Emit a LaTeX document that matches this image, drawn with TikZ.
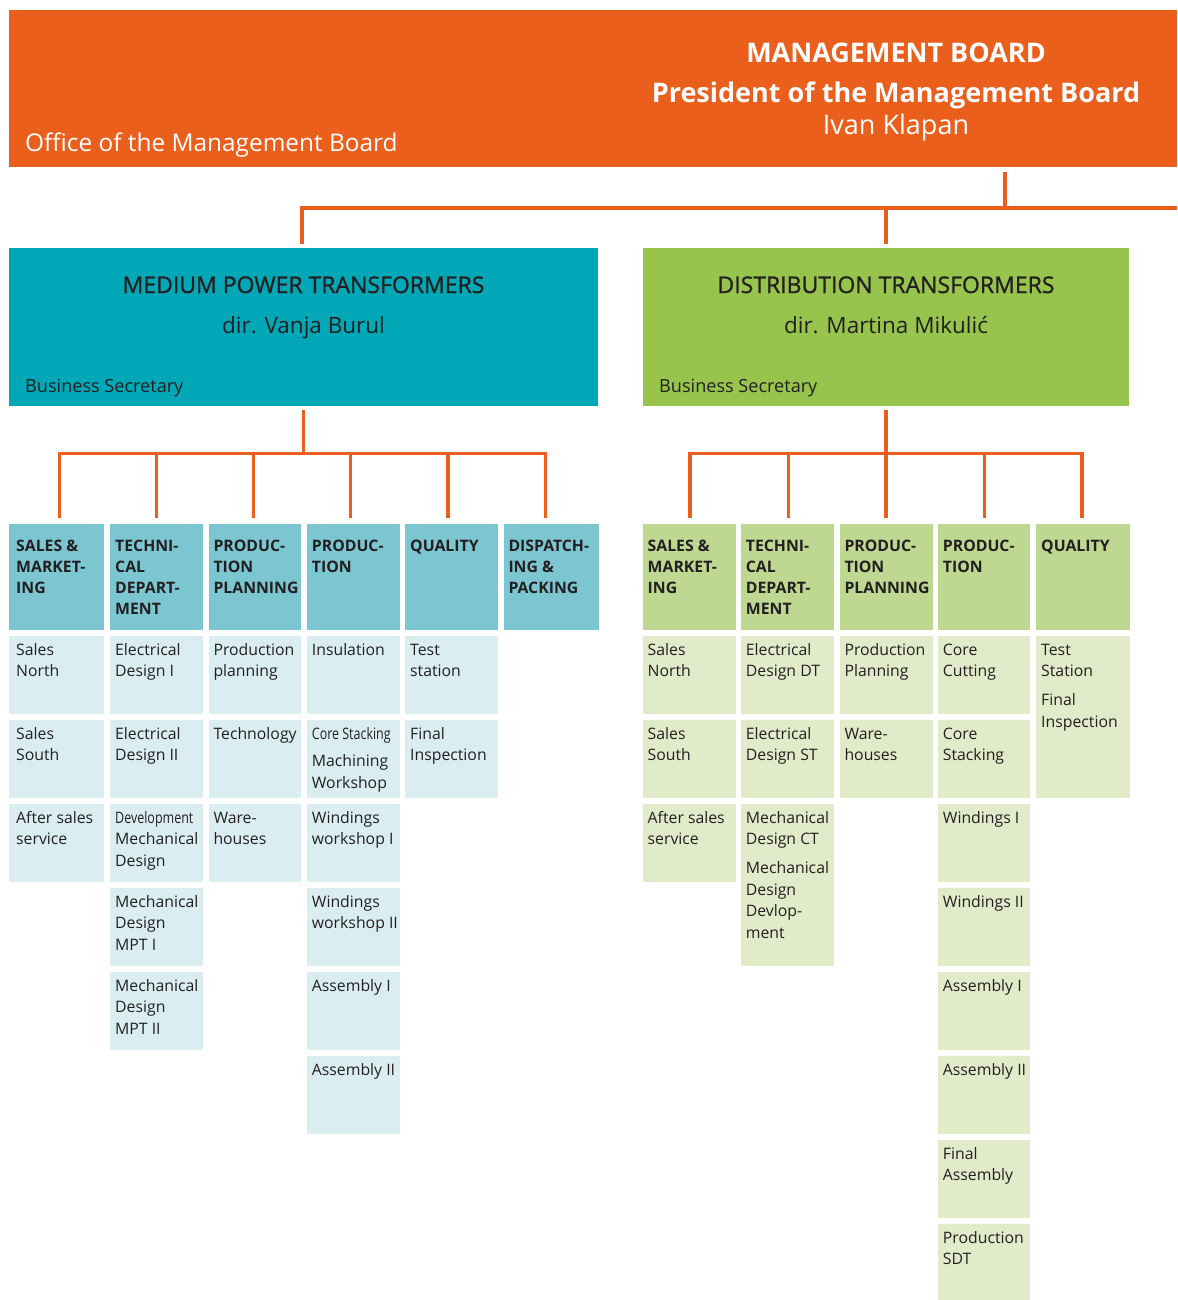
\documentclass[tikz,border=0pt]{standalone}
\usepackage{fontspec}
\setmainfont{Open Sans}
\newfontfamily\condfont[FakeStretch=0.79]{Open Sans}
\newfontfamily\semifont[FakeBold=1]{Open Sans}
\definecolor{orgC}{HTML}{EB5F1C}
\definecolor{tealC}{HTML}{00A8B7}
\definecolor{tealH}{HTML}{7BC6D1}
\definecolor{tealL}{HTML}{DAEEF2}
\definecolor{grnC}{HTML}{97C44C}
\definecolor{grnH}{HTML}{BFD891}
\definecolor{grnL}{HTML}{E1EBC9}
\definecolor{txtC}{HTML}{231F20}
\newcommand\cellfont{\fontsize{15.8}{21.5}\selectfont\hyphenpenalty=10000\exhyphenpenalty=10000\relax}
\newcommand\hdrfont{\fontsize{15.8}{21}\bfseries\hyphenpenalty=10000\exhyphenpenalty=10000\relax}
\tikzset{
  conn/.style={draw=orgC, line width=3.2pt, line join=miter},
  fillbox/.style={inner sep=0pt, anchor=north west, draw=none},
  cellnode/.style={inner sep=0pt, anchor=north west, text=txtC},
  boxtitle/.style={anchor=base, text=txtC, inner sep=0pt, font=\semifont\fontsize{23}{28}\selectfont},
  boxname/.style={anchor=base, text=txtC, inner sep=0pt, font=\fontsize{22.5}{28}\selectfont},
  boxsec/.style={anchor=base west, text=txtC, inner sep=0pt, font=\fontsize{18.1}{22}\selectfont},
}
% #1 pad, #2 name, #3 x, #4 y, #5 w, #6 h, #7 fill, #8 text
\newcommand\cbox[8][5]{\node[cellnode, fill=#7] (#2) at (#3,#4) {\parbox[t][#6pt][t]{#5pt}{\cellfont\leftskip=#1pt\relax\rule{0pt}{18.8pt}#8}};}
\newcommand\hdrbox[7][5]{\node[cellnode, fill=#6] (#2) at (#3,#4) {\parbox[t][106.5pt][t]{#5pt}{\hdrfont\leftskip=#1pt\relax\rule{0pt}{28pt}#7}};}
\begin{document}
\begin{tikzpicture}[x=1pt,y=-1pt]
\useasboundingbox (0,0) rectangle (1177,1300);
% ---------- management board
\node[fillbox, fill=orgC, minimum width=1168pt, minimum height=157pt] (mb) at (9,10) {};
\node[anchor=base, text=white, inner sep=0pt, font=\fontsize{27}{30}\bfseries] (mbt) at (896,63) {MANAGEMENT BOARD};
\node[anchor=base, text=white, inner sep=0pt, font=\fontsize{27}{30}\bfseries] (mbp) at (896,103) {President of the Management Board};
\node[anchor=base, text=white, inner sep=0pt, font=\fontsize{27}{30}\selectfont] (mbn) at (896,135) {Ivan Klapan};
\node[anchor=base west, text=white, inner sep=0pt, font=\fontsize{24.4}{30}\selectfont] (office) at (25,152) {Office of the Management Board};
% ---------- division boxes
\node[fillbox, fill=tealC, minimum width=589pt, minimum height=158pt] (mpt) at (9,248) {};
\node[boxtitle] (mptt) at (303.5,293) {MEDIUM POWER TRANSFORMERS};
\node[boxname] (mptn) at (303.5,333) {dir. Vanja Burul};
\node[boxsec] (mpts) at (25,392) {Business Secretary};
\node[fillbox, fill=grnC, minimum width=486pt, minimum height=158pt] (dt) at (643,248) {};
\node[boxtitle] (dtt) at (886,293) {DISTRIBUTION TRANSFORMERS};
\node[boxname] (dtn) at (886,333) {dir. Martina Mikulić};
\node[boxsec] (dts) at (659,392) {Business Secretary};
% ---------- top connectors
\coordinate (tj) at (1005,208);
\coordinate (tl) at (302,208);
\coordinate (tm) at (886,208);
\coordinate (tr) at (1177,208);
\draw[conn, shorten <=5pt] (mb.south -| tj) -- (tj);
\draw[conn, shorten <=4pt] (mpt.north -| tl) -- (tl) -- (tr);
\draw[conn, shorten >=4pt] (tm) -- (tm |- dt.north);
% ---------- MPT headers
\hdrbox[7]{mh1}{9}{523.5}{95}{tealH}{SALES~\&\\MARKET-\\ING}
\hdrbox{mh2}{110}{523.5}{92.7}{tealH}{TECHNI-\\CAL\\DEPART-\\MENT}
\hdrbox{mh3}{208.3}{523.5}{92.7}{tealH}{PRODUC-\\TION\\PLANNING}
\hdrbox{mh4}{306.7}{523.5}{92.7}{tealH}{PRODUC-\\TION}
\hdrbox{mh5}{405}{523.5}{92.3}{tealH}{QUALITY}
\hdrbox{mh6}{503.3}{523.5}{95}{tealH}{DISPATCH-\\ING~\&\\PACKING}
% ---------- MPT cells
\cbox[7]{m11}{9}{636}{95}{77.5}{tealL}{Sales\\North}
\cbox[7]{m12}{9}{720}{95}{77.5}{tealL}{Sales\\South}
\cbox[7]{m13}{9}{804}{95}{77.5}{tealL}{After~sales\\service}
\cbox{m21}{110}{636}{92.7}{77.5}{tealL}{Electrical\\Design~I}
\cbox{m22}{110}{720}{92.7}{77.5}{tealL}{Electrical\\Design~II}
\cbox{m23}{110}{804}{92.7}{77.5}{tealL}{{\condfont Development}\\Mechanical\\Design}
\cbox{m24}{110}{888}{92.7}{77.5}{tealL}{Mechanical\\Design\\MPT~I}
\cbox{m25}{110}{972}{92.7}{77.5}{tealL}{Mechanical\\Design\\MPT~II}
\cbox{m31}{208.3}{636}{92.7}{77.5}{tealL}{Production\\planning}
\cbox{m32}{208.3}{720}{92.7}{77.5}{tealL}{Technology}
\cbox{m33}{208.3}{804}{92.7}{77.5}{tealL}{Ware-\\houses}
\cbox{m41}{306.7}{636}{92.7}{77.5}{tealL}{Insulation}
\cbox{m42}{306.7}{720}{92.7}{77.5}{tealL}{{\condfont Core~Stacking}\\[6pt]Machining\\Workshop}
\cbox{m43}{306.7}{804}{92.7}{77.5}{tealL}{Windings\\workshop~I}
\cbox{m44}{306.7}{888}{92.7}{77.5}{tealL}{Windings\\workshop~II}
\cbox{m45}{306.7}{972}{92.7}{77.5}{tealL}{Assembly~I}
\cbox{m46}{306.7}{1056}{92.7}{77.5}{tealL}{Assembly~II}
\cbox{m51}{405}{636}{92.3}{77.5}{tealL}{Test\\station}
\cbox{m52}{405}{720}{92.3}{77.5}{tealL}{Final\\Inspection}
% ---------- MPT connectors
\coordinate (mb1) at (59.3,453.3);
\coordinate (mb2) at (156.3,453.3);
\coordinate (mb3) at (253.6,453.3);
\coordinate (mb4) at (350.8,453.3);
\coordinate (mb5) at (447.9,453.3);
\coordinate (mb6) at (545.3,453.3);
\draw[conn, shorten <=4pt] (mpt.south) -- (mpt.south |- mb1);
\draw[conn, shorten <=5.5pt, shorten >=5.5pt] (mh1.north -| mb1) -- (mb1) -- (mb6) -- (mh6.north -| mb6);
\foreach \i in {2,3,4,5} \draw[conn, shorten >=5.5pt] (mb\i) -- (mb\i |- mh\i.north);
% ---------- DT headers
\hdrbox{dh1}{642.5}{523.5}{92.8}{grnH}{SALES~\&\\MARKET-\\ING}
\hdrbox{dh2}{740.7}{523.5}{93.3}{grnH}{TECHNI-\\CAL\\DEPART-\\MENT}
\hdrbox{dh3}{839.3}{523.5}{93}{grnH}{PRODUC-\\TION\\PLANNING}
\hdrbox{dh4}{937.7}{523.5}{92.3}{grnH}{PRODUC-\\TION}
\hdrbox{dh5}{1036}{523.5}{93.3}{grnH}{QUALITY}
% ---------- DT cells
\cbox{d11}{642.5}{636}{92.8}{77.5}{grnL}{Sales\\North}
\cbox{d12}{642.5}{720}{92.8}{77.5}{grnL}{Sales\\South}
\cbox{d13}{642.5}{804}{92.8}{77.5}{grnL}{After~sales\\service}
\cbox{d21}{740.7}{636}{93.3}{77.5}{grnL}{Electrical\\Design~DT}
\cbox{d22}{740.7}{720}{93.3}{77.5}{grnL}{Electrical\\Design~ST}
\cbox{d23}{740.7}{804}{93.3}{161.5}{grnL}{Mechanical\\Design~CT\\[7.5pt]Mechanical\\Design\\Devlop-\\ment}
\cbox{d31}{839.3}{636}{93}{77.5}{grnL}{Production\\Planning}
\cbox{d32}{839.3}{720}{93}{77.5}{grnL}{Ware-\\houses}
\cbox{d41}{937.7}{636}{92.3}{77.5}{grnL}{Core\\Cutting}
\cbox{d42}{937.7}{720}{92.3}{77.5}{grnL}{Core\\Stacking}
\cbox{d43}{937.7}{804}{92.3}{77.5}{grnL}{Windings~I}
\cbox{d44}{937.7}{888}{92.3}{77.5}{grnL}{Windings~II}
\cbox{d45}{937.7}{972}{92.3}{77.5}{grnL}{Assembly~I}
\cbox{d46}{937.7}{1056}{92.3}{77.5}{grnL}{Assembly~II}
\cbox{d47}{937.7}{1140}{92.3}{77.5}{grnL}{Final\\Assembly}
\cbox{d48}{937.7}{1224}{92.3}{76}{grnL}{Production\\SDT}
\cbox{d51}{1036}{636}{93.3}{161.5}{grnL}{Test\\Station\\[7.5pt]Final\\Inspection}
% ---------- DT connectors
\coordinate (db1) at (690,453.3);
\coordinate (db2) at (788.3,453.3);
\coordinate (db3) at (886,453.3);
\coordinate (db4) at (984.3,453.3);
\coordinate (db5) at (1082,453.3);
\draw[conn, shorten <=4pt] (dt.south -| db3) -- (db3);
\draw[conn, shorten <=5.5pt, shorten >=5.5pt] (dh1.north -| db1) -- (db1) -- (db5) -- (dh5.north -| db5);
\foreach \i in {2,3,4} \draw[conn, shorten >=5.5pt] (db\i) -- (db\i |- dh\i.north);
\end{tikzpicture}
\end{document}
